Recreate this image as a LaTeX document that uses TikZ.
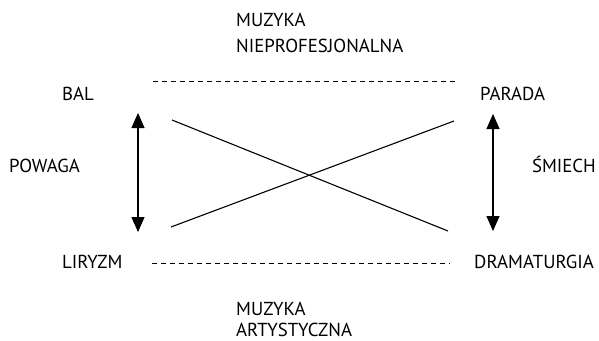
\documentclass[tikz,border=0pt]{standalone}
\usepackage{fontspec}
\setmainfont{PT Sans}
\usetikzlibrary{arrows.meta}
\begin{document}
\begin{tikzpicture}[x=1pt,y=-1pt,
  lbl/.style={anchor=base west,inner sep=0pt,font=\fontsize{18.8}{24}\selectfont},
  conn/.style={line width=1.1pt},
  dashline/.style={line width=0.9pt,dash pattern=on 5pt off 4pt},
  vert/.style={line width=1.1pt,{Triangle[width=13pt,length=15pt]}-{Triangle[width=13pt,length=15pt]}}]
\useasboundingbox (0,0) rectangle (599,340);
\node[lbl] (mn1) at (236,27) {MUZYKA};
\node[lbl] (mn2) at (236,52) {NIEPROFESJONALNA};
\node[lbl] (bal) at (62,100) {BAL};
\node[lbl] (parada) at (480,100) {PARADA};
\node[lbl] (powaga) at (9,172) {POWAGA};
\node[lbl,anchor=base east] (smiech) at (596,172) {ŚMIECH};
\node[lbl] (liryzm) at (62,268) {LIRYZM};
\node[lbl] (drama) at (474,268) {DRAMATURGIA};
\node[lbl] (ma1) at (236,315) {MUZYKA};
\node[lbl] (ma2) at (236,336) {ARTYSTYCZNA};
\coordinate (tl) at (153,81);
\coordinate (tr) at (455,81);
\coordinate (bl) at (152,263);
\coordinate (br) at (450,263);
\coordinate (la) at (138,113);
\coordinate (lb) at (138,232);
\coordinate (ra) at (493,114);
\coordinate (rb) at (493,231);
\coordinate (x1a) at (172,120);
\coordinate (x1b) at (448,231);
\coordinate (x2a) at (454,121);
\coordinate (x2b) at (171,227);
\draw[dashline] (tl) -- (tr);
\draw[dashline] (bl) -- (br);
\draw[vert] (la) -- (lb);
\draw[vert] (ra) -- (rb);
\draw[conn] (x1a) -- (x1b);
\draw[conn] (x2a) -- (x2b);
\end{tikzpicture}
\end{document}
